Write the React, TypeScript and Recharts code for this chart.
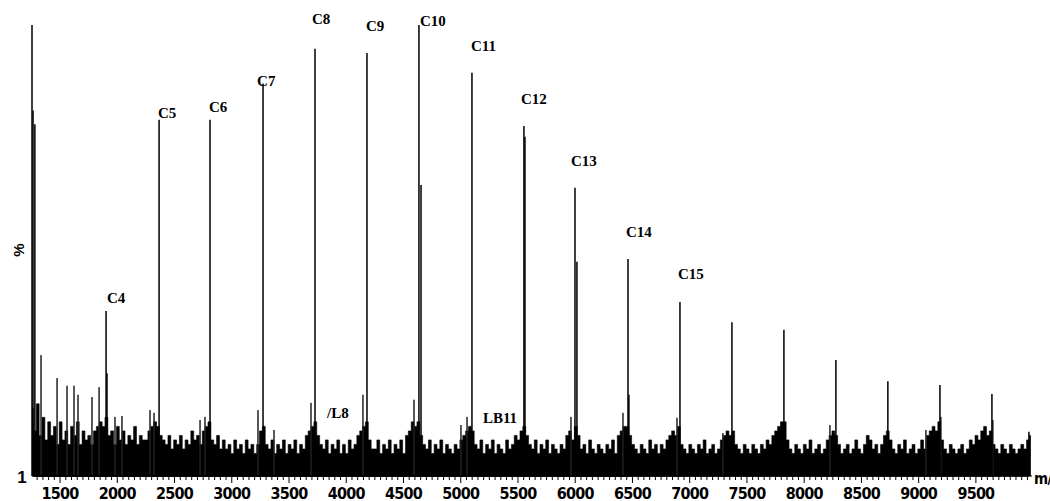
import React from "react";
import { ComposedChart, XAxis, YAxis, Area, Line, Scatter, ReferenceLine } from "recharts";

// m/z positions of the main C-cluster peaks and their relative intensity (%)
const peakMz = [1264, 1902, 2365, 2810, 3273, 3727, 4181, 4635, 5098, 5552, 5998, 6461, 6915, 7369, 7823, 8277, 8731, 9186, 9640, 9963];
const peakPct = [81, 36.6, 79, 79, 87, 94.7, 93.8, 100, 89.4, 77.6, 63.9, 48.1, 38.6, 34.1, 32.4, 25.7, 21, 20.2, 18.2, 9.8];

// shoulders right next to some main peaks
const shoulderMz = [1280, 1910, 4653, 5561, 6015, 6469];
const shoulderPct = [78, 22.8, 64.5, 75.2, 47.5, 18];

// small isolated spikes above the noise floor
const minorMz = [1334, 1474, 1561, 1622, 1657, 1779, 1841, 1980, 2041, 2286, 2321, 2723, 2766, 3229, 3369, 3692, 4146, 4592, 5002, 5055, 5963, 6417, 6889, 7290, 8225, 9063, 9194, 9648];
const minorPct = [26.8, 21.7, 20, 20, 18, 17.5, 19.7, 13.1, 13.3, 14.6, 14, 12.4, 13.1, 14.6, 10.2, 16.2, 18, 16.9, 11.3, 13.1, 13.1, 14, 12.9, 9.5, 11.3, 10.2, 13.1, 12.4];

// noise floor, one value every 25 m/z starting at 1255
const NOISE_START = 1255;
const NOISE_STEP = 25;
const noise1 = [15, 10, 16, 9, 13, 8, 12, 9, 11, 7, 12, 8, 10, 7, 11, 9, 12, 7, 10, 8];
const noise2 = [9, 7, 10, 11, 12, 11, 13, 9, 10, 7, 11, 8, 10, 7, 9, 8, 11, 7, 9, 8];
const noise3 = [8, 10, 11, 12, 11, 9, 8, 7, 9, 6, 8, 7, 9, 6, 8, 7, 10, 8, 9, 7];
const noise4 = [10, 11, 12, 8, 7, 9, 6, 8, 6, 7, 5, 8, 6, 7, 5, 8, 6, 7, 5, 7];
const noise5 = [10, 11, 7, 6, 8, 5, 7, 6, 8, 5, 7, 6, 8, 5, 7, 6, 9, 10, 11, 12];
const noise6 = [9, 7, 6, 8, 5, 7, 6, 8, 5, 7, 5, 8, 6, 7, 9, 10, 11, 12, 8, 6];
const noise7 = [6, 8, 5, 7, 6, 8, 5, 7, 6, 8, 5, 9, 10, 12, 11, 12, 9, 7, 6, 8];
const noise8 = [5, 7, 6, 8, 5, 7, 6, 5, 7, 6, 8, 9, 10, 11, 10, 7, 6, 8, 5, 7];
const noise9 = [6, 8, 5, 7, 6, 5, 8, 6, 7, 9, 8, 10, 11, 9, 7, 6, 8, 5, 7, 6];
const noise10 = [8, 5, 7, 6, 5, 7, 6, 9, 10, 8, 11, 9, 6, 7, 5, 8, 6, 5, 7, 6];
const noise11 = [5, 7, 6, 8, 5, 9, 10, 11, 11, 9, 7, 6, 5, 7, 6, 5, 8, 6, 7, 5];
const noise12 = [7, 6, 8, 9, 10, 9, 11, 7, 6, 5, 7, 6, 5, 7, 6, 8, 5, 6, 7, 5];
const noise13 = [6, 8, 9, 10, 9, 10, 7, 6, 5, 7, 6, 5, 7, 6, 5, 7, 6, 8, 7, 9];
const noise14 = [10, 11, 12, 12, 8, 6, 5, 7, 6, 5, 7, 6, 8, 5, 6, 7, 5, 6, 8, 9];
const noise15 = [10, 9, 7, 5, 6, 7, 5, 6, 8, 6, 5, 7, 9, 8, 6, 7, 5, 7, 9, 10];
const noise16 = [8, 6, 5, 7, 6, 8, 5, 6, 7, 5, 6, 8, 6, 9, 10, 11, 10, 12, 8, 6];
const noise17 = [5, 7, 6, 5, 6, 7, 5, 6, 8, 7, 9, 8, 10, 11, 9, 10, 7, 6, 5, 7];
const noise18 = [6, 5, 7, 6, 5, 6, 7, 6, 8, 9];

// peak annotations: left edge m/z and vertical centre (%)
const labelNames = ["C4", "C5", "C6", "C7", "C8", "C9", "C10", "C11", "C12", "C13", "C14", "C15", "/L8", "LB11"];
const labelMz = [1910, 2356, 2801, 3221, 3701, 4172, 4644, 5090, 5526, 5963, 6443, 6897, 3832, 5194];
const labelPct = [39.5, 80.5, 81.8, 87.6, 101.3, 99.8, 100.9, 95.3, 83.6, 69.8, 54.1, 44.8, 14, 12.9];

const xLabels = [1500, 2000, 2500, 3000, 3500, 4000, 4500, 5000, 5500, 6000, 6500, 7000, 7500, 8000, 8500, 9000, 9500];
const yTicks = [0, 10, 20, 30, 40, 50, 60, 70, 80, 90, 100];

const X_MIN = 1255;
const X_MAX = 9990;

const xTicks: number[] = [];
for (let t = 1300; t < X_MAX; t += 50) xTicks.push(t);

const noise = [
  ...noise1, ...noise2, ...noise3, ...noise4, ...noise5, ...noise6, ...noise7, ...noise8, ...noise9,
  ...noise10, ...noise11, ...noise12, ...noise13, ...noise14, ...noise15, ...noise16, ...noise17, ...noise18,
].map((v, i) => ({ mz: NOISE_START + i * NOISE_STEP, v }));

const sticks = (mz: number[], pct: number[]) =>
  mz.flatMap((m, i) => [
    { mz: m, v: 0 },
    { mz: m, v: pct[i] },
    { mz: m, v: 0 },
  ]);

const mainSticks = sticks(peakMz, peakPct);
const shoulderSticks = sticks(shoulderMz, shoulderPct);
const minorSticks = sticks(minorMz, minorPct);

const labels = labelNames.map((name, i) => ({ mz: labelMz[i], v: labelPct[i], name }));

const tickFont = '"Liberation Sans Narrow", "DejaVu Sans Condensed", "Liberation Sans", sans-serif';

const XTick = ({ x, y, payload }: any) => {
  const major = payload.value % 500 === 0;
  return (
    <g>
      <line x1={x} x2={x} y1={y} y2={y + (major ? 7 : 4)} stroke="#000" strokeWidth={1} />
      {major && xLabels.includes(payload.value) && (
        <text
          x={x}
          y={y + 17}
          textAnchor="middle"
          dominantBaseline="central"
          fontFamily={tickFont}
          fontWeight={700}
          fontSize={16}
          letterSpacing={-0.8}
          fill="#000"
        >
          {payload.value}
        </text>
      )}
    </g>
  );
};

const PeakLabel = (p: any) => (
  <text
    x={p.cx}
    y={p.cy}
    dominantBaseline="central"
    fontFamily='"Liberation Serif", "Times New Roman", serif'
    fontWeight={700}
    fontSize={15}
    fill="#000"
  >
    {p.payload.name}
  </text>
);

export default function App() {
  return (
    <div style={{ position: "absolute", left: 0, top: 0, width: 1050, height: 501, background: "#fff", overflow: "hidden" }}>
      <ComposedChart width={1050} height={501} margin={{ top: 1, right: 18, bottom: 0, left: 0 }}>
        <XAxis
          type="number"
          dataKey="mz"
          domain={[X_MIN, X_MAX]}
          allowDataOverflow
          ticks={xTicks}
          interval={0}
          height={25}
          tickSize={0}
          tickMargin={0}
          tickLine={false}
          tick={<XTick />}
          axisLine={{ stroke: "#000" }}
        />
        <YAxis
          type="number"
          domain={[0, 105.3]}
          ticks={yTicks}
          width={32}
          tick={false}
          tickSize={4}
          tickLine={{ stroke: "#000" }}
          axisLine={false}
        />
        <ReferenceLine
          segment={[{ x: X_MIN, y: 0 }, { x: X_MIN, y: 100 }]}
          stroke="#000"
          strokeWidth={1.5}
        />
        <Area
          data={noise}
          dataKey="v"
          type="step"
          stroke="#000"
          strokeWidth={0.6}
          fill="#000"
          fillOpacity={1}
          dot={false}
          activeDot={false}
          isAnimationActive={false}
        />
        <Line data={minorSticks} dataKey="v" type="linear" stroke="#222" strokeWidth={1} dot={false} activeDot={false} isAnimationActive={false} />
        <Line data={shoulderSticks} dataKey="v" type="linear" stroke="#000" strokeWidth={1.5} dot={false} activeDot={false} isAnimationActive={false} />
        <Line data={mainSticks} dataKey="v" type="linear" stroke="#000" strokeWidth={1.5} strokeLinejoin="bevel" dot={false} activeDot={false} isAnimationActive={false} />
        <Scatter data={labels} dataKey="v" shape={<PeakLabel />} isAnimationActive={false} />
      </ComposedChart>
      <svg width={1050} height={501} style={{ position: "absolute", left: 0, top: 0, pointerEvents: "none" }}>
        <text x={22} y={477} textAnchor="middle" dominantBaseline="central" fontFamily='"Liberation Sans", Arial, sans-serif' fontWeight={700} fontSize={17} fill="#000">
          1
        </text>
        <text
          x={18}
          y={250}
          transform="rotate(-90 18 250)"
          textAnchor="middle"
          dominantBaseline="central"
          fontFamily='"Liberation Sans", Arial, sans-serif'
          fontWeight={700}
          fontSize={15}
          fill="#000"
        >
          %
        </text>
        <text x={1034} y={484} fontFamily={tickFont} fontWeight={700} fontSize={15} letterSpacing={-0.5} fill="#000">
          m/z
        </text>
      </svg>
    </div>
  );
}
